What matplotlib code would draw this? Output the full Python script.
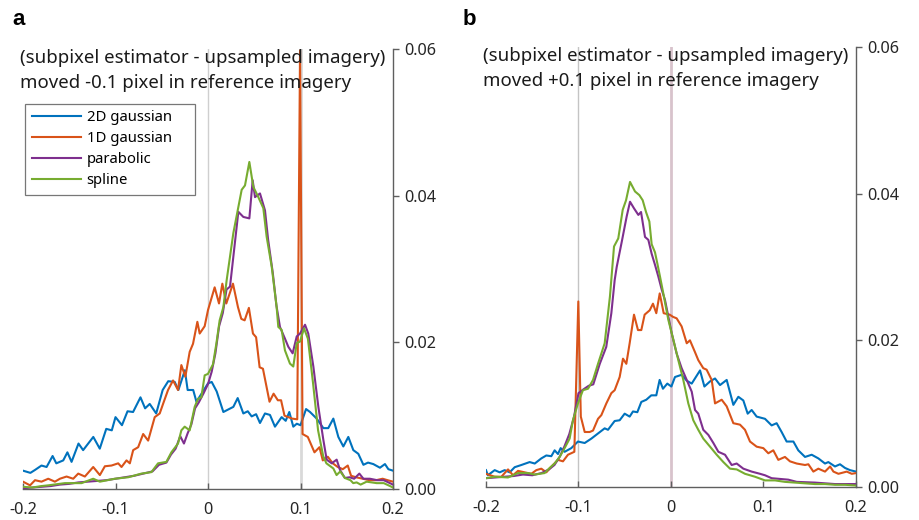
import matplotlib
matplotlib.use("Agg")
import matplotlib.pyplot as plt

plt.rcParams['font.family'] = ['Noto Sans', 'DejaVu Sans']

# ---- panel a : moved -0.1 pixel ----
a_blue_x = [-0.2, -0.192, -0.187, -0.18, -0.1745, -0.168, -0.164, -0.1565, -0.152, -0.1475,
            -0.14, -0.135, -0.124, -0.117, -0.11, -0.104, -0.1, -0.093, -0.087, -0.081,
            -0.073, -0.068, -0.063, -0.056, -0.049, -0.043, -0.036, -0.032, -0.025, -0.022,
            -0.016, -0.0125, -0.007, 0.0, 0.004, 0.0094, 0.0166, 0.0274, 0.0321, 0.0382,
            0.043, 0.0472, 0.052, 0.0562, 0.0616, 0.067, 0.0724, 0.0796, 0.084, 0.0879,
            0.0922, 0.096, 0.1, 0.106, 0.1103, 0.1175, 0.1247, 0.13, 0.1355, 0.1409,
            0.1463, 0.1517, 0.1571, 0.1625, 0.168, 0.173, 0.1787, 0.1859, 0.1913, 0.195,
            0.2]
a_blue_y = [0.0025, 0.0022, 0.0026, 0.0032, 0.003, 0.0045, 0.0035, 0.0039, 0.005, 0.0037,
            0.0062, 0.0053, 0.0071, 0.0055, 0.0082, 0.008, 0.0098, 0.0087, 0.0106, 0.0105,
            0.0125, 0.011, 0.0116, 0.0103, 0.0135, 0.0147, 0.0146, 0.0135, 0.0162, 0.0135,
            0.0135, 0.0119, 0.013, 0.0144, 0.0146, 0.0133, 0.0105, 0.0112, 0.0124, 0.0103,
            0.0106, 0.0099, 0.0102, 0.009, 0.0103, 0.0101, 0.0085, 0.0098, 0.0093, 0.0105,
            0.0085, 0.0089, 0.0087, 0.0109, 0.0105, 0.0096, 0.0083, 0.0083, 0.0096, 0.0071,
            0.0058, 0.0071, 0.0053, 0.0048, 0.0033, 0.0036, 0.0034, 0.0029, 0.0034, 0.0027,
            0.0025]

a_orange_x = [-0.2, -0.1924, -0.187, -0.18, -0.1727, -0.1655, -0.1601, -0.1529, -0.1457, -0.1403,
              -0.1331, -0.1241, -0.1169, -0.1115, -0.1043, -0.0971, -0.0935, -0.0881, -0.0845, -0.0809,
              -0.0755, -0.0701, -0.0647, -0.0576, -0.0522, -0.0486, -0.0432, -0.0378, -0.0324, -0.0288,
              -0.0245, -0.0198, -0.0162, -0.0115, -0.009, -0.0036, 0.0, 0.0072, 0.0119, 0.0155,
              0.0198, 0.027, 0.0324, 0.036, 0.0396, 0.0442, 0.0486, 0.052, 0.0558, 0.0594,
              0.0665, 0.0709, 0.0755, 0.079, 0.0827, 0.091, 0.0965, 0.0995, 0.1022, 0.1079,
              0.1151, 0.1205, 0.1241, 0.1295, 0.1349, 0.1403, 0.1457, 0.1511, 0.1547, 0.16,
              0.1673, 0.1745, 0.1817, 0.1888, 0.1942, 0.2]
a_orange_y = [0.001, 0.0005, 0.0012, 0.001, 0.0014, 0.001, 0.0014, 0.0017, 0.0014, 0.0021,
              0.0017, 0.003, 0.0019, 0.0031, 0.0032, 0.0035, 0.003, 0.0039, 0.0035, 0.0053,
              0.0057, 0.0075, 0.0066, 0.0098, 0.0103, 0.0116, 0.0135, 0.0148, 0.0135, 0.0169,
              0.0153, 0.0187, 0.0198, 0.0228, 0.0212, 0.0222, 0.0244, 0.0275, 0.0253, 0.028,
              0.0253, 0.028, 0.0248, 0.0232, 0.023, 0.0247, 0.0212, 0.0207, 0.0166, 0.0164,
              0.0119, 0.013, 0.0121, 0.0121, 0.01, 0.0096, 0.0095, 0.0598, 0.0075, 0.0071,
              0.005, 0.0057, 0.0039, 0.0044, 0.0035, 0.003, 0.0027, 0.0032, 0.0018, 0.0016,
              0.0014, 0.0012, 0.0012, 0.0014, 0.0012, 0.001]

a_purple_x = [-0.2, -0.19, -0.18, -0.17, -0.16, -0.15, -0.14, -0.13, -0.12, -0.11,
              -0.1, -0.09, -0.08, -0.07, -0.06, -0.053, -0.045, -0.04, -0.035, -0.03,
              -0.026, -0.022, -0.018, -0.014, -0.01, -0.005, 0.0, 0.004, 0.008, 0.012,
              0.016, 0.02, 0.0238, 0.0328, 0.0382, 0.0447, 0.0483, 0.0508, 0.0562, 0.0616,
              0.065, 0.07, 0.074, 0.0778, 0.0832, 0.0868, 0.0915, 0.0959, 0.0995, 0.1049,
              0.1084, 0.1139, 0.1193, 0.1247, 0.1283, 0.1337, 0.1391, 0.1427, 0.148, 0.153,
              0.158, 0.1636, 0.168, 0.175, 0.183, 0.19, 0.2]
a_purple_y = [0.0001, 0.0002, 0.0003, 0.0004, 0.0006, 0.0007, 0.0009, 0.001, 0.0011, 0.0012,
              0.0014, 0.0016, 0.0018, 0.0021, 0.0024, 0.0033, 0.0036, 0.0047, 0.0055, 0.0072,
              0.0062, 0.0076, 0.0088, 0.011, 0.0118, 0.013, 0.0143, 0.016, 0.0185, 0.0222,
              0.024, 0.0272, 0.0276, 0.0378, 0.0371, 0.0369, 0.0421, 0.0398, 0.0403, 0.038,
              0.034, 0.0295, 0.025, 0.0221, 0.0205, 0.0194, 0.0185, 0.0208, 0.0212, 0.0224,
              0.0212, 0.0167, 0.0112, 0.0067, 0.004, 0.0035, 0.004, 0.0026, 0.0015, 0.0016,
              0.0014, 0.0021, 0.0014, 0.0014, 0.0012, 0.0012, 0.0006]

a_green_x = [-0.2, -0.19, -0.18, -0.1727, -0.1547, -0.1367, -0.1241, -0.1169, -0.1007, -0.0863,
             -0.072, -0.0612, -0.054, -0.045, -0.0396, -0.0324, -0.0288, -0.0252, -0.0198, -0.0144,
             -0.0108, -0.0072, -0.0036, 0.0, 0.0054, 0.009, 0.0126, 0.0166, 0.0202, 0.0274,
             0.0364, 0.04, 0.0447, 0.049, 0.0544, 0.0598, 0.0634, 0.0689, 0.0742, 0.076,
             0.0796, 0.0832, 0.0886, 0.0922, 0.0959, 0.0995, 0.1038, 0.108, 0.1135, 0.119,
             0.1245, 0.128, 0.1355, 0.139, 0.143, 0.148, 0.154, 0.157, 0.1607, 0.165,
             0.1715, 0.1823, 0.19, 0.1985, 0.2]
a_green_y = [0.0003, 0.0002, 0.0004, 0.0005, 0.0008, 0.0008, 0.0014, 0.001, 0.0014, 0.0016,
             0.0021, 0.0023, 0.0035, 0.0037, 0.005, 0.0062, 0.008, 0.0085, 0.008, 0.0112,
             0.0123, 0.0125, 0.0155, 0.0157, 0.017, 0.0198, 0.023, 0.0248, 0.0285, 0.0349,
             0.0408, 0.0414, 0.0446, 0.0412, 0.0398, 0.0383, 0.0344, 0.0303, 0.0248, 0.0221,
             0.0217, 0.0189, 0.0171, 0.0167, 0.0199, 0.0201, 0.0219, 0.0205, 0.0145, 0.008,
             0.0045, 0.0035, 0.0028, 0.0019, 0.0024, 0.0015, 0.0012, 0.0008, 0.0009, 0.0006,
             0.001, 0.0008, 0.0008, 0.0003, 0.0002]

# ---- panel b : moved +0.1 pixel ----
b_blue_x = [-0.2, -0.198, -0.1906, -0.1852, -0.1798, -0.1744, -0.169, -0.1618, -0.1528, -0.1473,
            -0.1402, -0.1348, -0.1294, -0.1258, -0.1222, -0.1193, -0.115, -0.1078, -0.1006, -0.0933,
            -0.0861, -0.0789, -0.0717, -0.0681, -0.0609, -0.0555, -0.0501, -0.0447, -0.0411, -0.0364,
            -0.0321, -0.0267, -0.0213, -0.0159, -0.0123, -0.0087, -0.004, 0.0004,
            0.0043, 0.0115, 0.017, 0.0224, 0.0314, 0.0361, 0.0422, 0.0476, 0.053, 0.0602,
            0.0674, 0.0728, 0.0782, 0.0829, 0.0872, 0.0926, 0.1016, 0.1088, 0.1142, 0.1196,
            0.125, 0.1323, 0.1376, 0.1449, 0.1521, 0.1593, 0.1665, 0.1701, 0.1773, 0.1827,
            0.1881, 0.1935, 0.2]
b_blue_y = [0.0023, 0.0016, 0.0023, 0.002, 0.0023, 0.002, 0.0027, 0.003, 0.0034, 0.0032,
            0.0039, 0.0043, 0.0042, 0.005, 0.0045, 0.0053, 0.0048, 0.0053, 0.0062, 0.006,
            0.0066, 0.0073, 0.008, 0.0078, 0.009, 0.0091, 0.01, 0.0096, 0.0103, 0.0102,
            0.0116, 0.0119, 0.0125, 0.0125, 0.0146, 0.0134, 0.0141, 0.0137,
            0.015, 0.0153, 0.0145, 0.0141, 0.0159, 0.0137, 0.0144, 0.0148, 0.0139, 0.0146,
            0.0112, 0.0123, 0.0118, 0.01, 0.0105, 0.0096, 0.0093, 0.0084, 0.0087, 0.0075,
            0.0062, 0.0062, 0.005, 0.0041, 0.0044, 0.0039, 0.0032, 0.0034, 0.0028, 0.0031,
            0.0026, 0.0023, 0.0021]

b_orange_x = [-0.2, -0.1906, -0.1834, -0.1762, -0.1708, -0.1654, -0.1582, -0.151, -0.1456, -0.1402,
              -0.1348, -0.1276, -0.1222, -0.1168, -0.1114, -0.1045, -0.1002, -0.0975, -0.0933, -0.0879,
              -0.0843, -0.0789, -0.0753, -0.0699, -0.0645, -0.0609, -0.0555, -0.0519, -0.0483, -0.0447,
              -0.04, -0.0357, -0.0321, -0.0285, -0.023, -0.0195, -0.0159, -0.0122, -0.0079, -0.0014,
              0.0022, 0.0061, 0.0115, 0.017, 0.0205, 0.0259, 0.0295, 0.0349, 0.0385, 0.044,
              0.0476, 0.0548, 0.0602, 0.0674, 0.0746, 0.08, 0.0854, 0.0926, 0.0998, 0.1052,
              0.1106, 0.116, 0.1232, 0.1286, 0.1359, 0.1449, 0.1485, 0.1539, 0.1593, 0.1665,
              0.172, 0.1756, 0.181, 0.19, 0.1954, 0.2]
b_orange_y = [0.0018, 0.0014, 0.0014, 0.0024, 0.0016, 0.0022, 0.002, 0.0018, 0.0023, 0.0025,
              0.002, 0.003, 0.0037, 0.0035, 0.0044, 0.0048, 0.0253, 0.0096, 0.0075, 0.0075,
              0.0077, 0.0093, 0.0098, 0.0114, 0.0128, 0.0132, 0.015, 0.0175, 0.0168, 0.0196,
              0.0235, 0.0214, 0.0214, 0.0235, 0.0241, 0.025, 0.0237, 0.0264, 0.0237, 0.0235,
              0.0232, 0.023, 0.0219, 0.0196, 0.02, 0.0184, 0.0173, 0.0162, 0.016, 0.0146,
              0.0114, 0.0119, 0.011, 0.0087, 0.0085, 0.0078, 0.0062, 0.0055, 0.0053, 0.0046,
              0.005, 0.0037, 0.0041, 0.0035, 0.0032, 0.003, 0.0031, 0.0021, 0.0025, 0.0021,
              0.0028, 0.0021, 0.0018, 0.0021, 0.0018, 0.0019]

b_purple_x = [-0.2, -0.19, -0.18, -0.17, -0.16, -0.15, -0.14, -0.132, -0.126, -0.12,
              -0.115, -0.11, -0.105, -0.1, -0.0948, -0.089, -0.084, -0.077, -0.07, -0.0645,
              -0.0609, -0.0587, -0.0533, -0.0479, -0.0443, -0.04, -0.0353, -0.0324, -0.0281, -0.0245,
              -0.0209, -0.0173, -0.0137, -0.01, -0.0065, 0.0007, 0.0061, 0.0115, 0.017, 0.0224,
              0.026, 0.0295, 0.0349, 0.0404, 0.0458, 0.0512, 0.0584, 0.0656, 0.071, 0.0782,
              0.0872, 0.0962, 0.1016, 0.1088, 0.1178, 0.1268, 0.1359, 0.1557, 0.1665, 0.1773,
              0.2]
b_purple_y = [0.0012, 0.0013, 0.0014, 0.0015, 0.0017, 0.0016, 0.0019, 0.0024, 0.003, 0.0042,
              0.0056, 0.0072, 0.0095, 0.0128, 0.0133, 0.0138, 0.014, 0.0168, 0.0191, 0.0237,
              0.0282, 0.03, 0.0334, 0.0369, 0.0389, 0.038, 0.0371, 0.0375, 0.0341, 0.0337,
              0.0318, 0.0303, 0.0287, 0.0269, 0.0255, 0.021, 0.0182, 0.0162, 0.0146, 0.013,
              0.0105, 0.01, 0.0078, 0.0071, 0.006, 0.0048, 0.0044, 0.003, 0.0032, 0.0025,
              0.0021, 0.0018, 0.0016, 0.0012, 0.0011, 0.001, 0.0007, 0.0006, 0.0005, 0.0004,
              0.0004]

b_green_x = [-0.2, -0.1906, -0.1762, -0.1654, -0.1546, -0.1473, -0.1366, -0.1312, -0.1258, -0.1204,
             -0.115, -0.1096, -0.106, -0.1006, -0.0952, -0.0897, -0.0843, -0.0789, -0.0717, -0.066,
             -0.0616, -0.057, -0.0522, -0.0486, -0.0443, -0.0389, -0.0342, -0.0306, -0.027, -0.0234,
             -0.0209, -0.0173, -0.0148, -0.0119, -0.0083, -0.0029, 0.0025, 0.0079, 0.0133, 0.0187,
             0.0241, 0.0295, 0.0349, 0.0422, 0.0494, 0.0566, 0.0638, 0.071, 0.08, 0.0908,
             0.1016, 0.1124, 0.1232, 0.134, 0.1449, 0.1557, 0.1665, 0.1773, 0.1881, 0.2]
b_green_y = [0.0012, 0.0014, 0.0013, 0.0019, 0.0019, 0.0017, 0.0019, 0.0026, 0.0032, 0.0041,
             0.0053, 0.0066, 0.0091, 0.0114, 0.0132, 0.0134, 0.0146, 0.0168, 0.0196, 0.026,
             0.0328, 0.0339, 0.0378, 0.0391, 0.0416, 0.0403, 0.0398, 0.0391, 0.0375, 0.0362,
             0.0331, 0.032, 0.0305, 0.0287, 0.0264, 0.0228, 0.0201, 0.0173, 0.0146, 0.0114,
             0.0091, 0.0078, 0.0066, 0.0055, 0.0044, 0.0034, 0.0025, 0.0024, 0.0018, 0.0014,
             0.0009, 0.0009, 0.0007, 0.0006, 0.0005, 0.0004, 0.0004, 0.0003, 0.0003, 0.0002]

labels = ['2D gaussian', '1D gaussian', 'parabolic', 'spline']
colors = ['#0072BD', '#D95319', '#7E2F8E', '#77AC30']
x_ticks = [-0.2, -0.1, 0, 0.1, 0.2]
x_ticklabels = ['-0.2', '-0.1', '0', '0.1', '0.2']
y_ticks = [0, 0.02, 0.04, 0.06]
y_ticklabels = ['0.00', '0.02', '0.04', '0.06']

AX_COL = '#5f5f5f'


def style_axes(ax):
    ax.set_xlim(-0.2, 0.2)
    ax.set_ylim(0, 0.06)
    ax.yaxis.tick_right()
    ax.spines['left'].set_visible(False)
    ax.spines['top'].set_visible(False)
    for s in ('bottom', 'right'):
        ax.spines[s].set_color(AX_COL)
        ax.spines[s].set_linewidth(1.0)
    ax.set_xticks(x_ticks)
    ax.set_xticklabels(x_ticklabels)
    ax.set_yticks(y_ticks)
    ax.set_yticklabels(y_ticklabels)
    ax.tick_params(axis='x', direction='in', length=4, width=1, color=AX_COL,
                   pad=9.5, labelsize=11.7, labelcolor='#262626')
    ax.tick_params(axis='y', direction='out', length=4, width=1, color=AX_COL,
                   pad=4, labelsize=11.7, labelcolor='#262626')


fig = plt.figure(figsize=(9.2, 5.2), dpi=100)
ax_a = fig.add_axes([23 / 920, 31 / 520, 370 / 920, 440 / 520])
ax_b = fig.add_axes([486 / 920, 33 / 520, 370 / 920, 440 / 520])

# reference markers
ax_a.axvline(0, color='#cfcfcf', lw=1.0, zorder=1)
ax_a.axvline(0.1, color='#d9d9d9', lw=2.0, zorder=1)
ax_b.axvline(-0.1, color='#c4c4c4', lw=1.0, zorder=1)
ax_b.axvline(0, color='#d8c3cc', lw=2.0, zorder=1)

series_a = [(a_blue_x, a_blue_y), (a_orange_x, a_orange_y),
            (a_purple_x, a_purple_y), (a_green_x, a_green_y)]
series_b = [(b_blue_x, b_blue_y), (b_orange_x, b_orange_y),
            (b_purple_x, b_purple_y), (b_green_x, b_green_y)]

for ax, series in ((ax_a, series_a), (ax_b, series_b)):
    for (xs, ys), c, lab in zip(series, colors, labels):
        ax.plot(xs, ys, color=c, lw=1.5, label=lab, zorder=3)
    style_axes(ax)

title_a = '(subpixel estimator - upsampled imagery)\nmoved -0.1 pixel in reference imagery'
title_b = '(subpixel estimator - upsampled imagery)\nmoved +0.1 pixel in reference imagery'
for ax, t in ((ax_a, title_a), (ax_b, title_b)):
    ax.text(-0.009, 1.0, t, transform=ax.transAxes, ha='left', va='top',
            fontsize=13.4, linespacing=1.5, color='#1a1a1a')

leg = ax_a.legend(loc='upper left', bbox_to_anchor=(0.005, 0.866, 0.46, 0.01), mode='expand',
                  fontsize=10.7, frameon=True, fancybox=False, handlelength=3.3,
                  handletextpad=0.4, labelspacing=0.4, borderpad=0.45, borderaxespad=0)
leg.get_frame().set_edgecolor('#555555')
leg.get_frame().set_linewidth(0.9)

fig.text(12 / 920, 1 - 25 / 520, 'a', fontsize=16, fontweight='bold', va='baseline',
         family='Liberation Sans')
fig.text(463 / 920, 1 - 25 / 520, 'b', fontsize=16, fontweight='bold', va='baseline',
         family='Liberation Sans')

fig.savefig('out.png', dpi=100)
